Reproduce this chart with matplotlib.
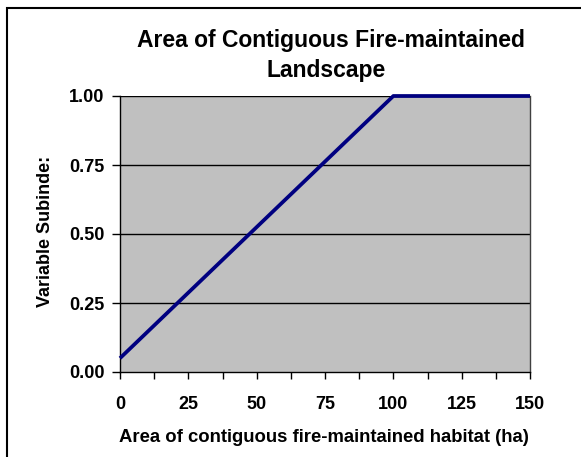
import matplotlib.pyplot as plt
from matplotlib.patches import Rectangle
from matplotlib.ticker import MultipleLocator

# data
area_ha = [0, 100, 150]
subindex = [0.05, 1.0, 1.0]
x_ticks = [0, 25, 50, 75, 100, 125, 150]
y_ticks = [0.0, 0.25, 0.5, 0.75, 1.0]

W, H = 581, 457
plt.rcParams['font.family'] = ['Liberation Sans', 'DejaVu Sans']
plt.rcParams['font.weight'] = 'bold'

fig = plt.figure(figsize=(W / 100, H / 100), dpi=100)
fig.patch.set_facecolor('white')

# plot area placed in pixel terms
left, right, top, bottom = 120, 530, 96, 372
ax = fig.add_axes([left / W, 1 - bottom / H, (right - left) / W, (bottom - top) / H])
ax.set_facecolor('#C0C0C0')

# gridlines
for yv in y_ticks[1:]:
    ax.axhline(yv, color='black', linewidth=1.0, zorder=1)

ax.plot(area_ha, subindex, color='#000080', linewidth=2.7, zorder=3, clip_on=False,
        solid_capstyle='butt')

ax.set_xlim(0, 150)
ax.set_ylim(0, 1.0)
ax.set_xticks(x_ticks)
ax.set_xticklabels([str(v) for v in x_ticks])
ax.xaxis.set_minor_locator(MultipleLocator(12.5))
ax.set_yticks(y_ticks)
ax.set_yticklabels(['%.2f' % v for v in y_ticks])

ax.tick_params(axis='x', which='both', direction='out', length=5, width=1, color='black',
               labelsize=13, pad=12)
ax.tick_params(axis='y', which='major', direction='out', length=6, width=1, color='black',
               labelsize=13, pad=5)

for side in ['left', 'bottom']:
    ax.spines[side].set_color('black')
    ax.spines[side].set_linewidth(1.0)
ax.spines['top'].set_visible(False)
ax.spines['right'].set_color('#404040')
ax.spines['right'].set_linewidth(1.0)

# titles and axis labels
fig.text(331 / W, 1 - 41 / H, 'Area of Contiguous Fire-maintained', ha='center', va='center',
         fontsize=16.5, fontweight='bold')
fig.text(326 / W, 1 - 71 / H, 'Landscape', ha='center', va='center',
         fontsize=16.5, fontweight='bold')
fig.text(324 / W, 1 - 437 / H, 'Area of contiguous fire-maintained habitat (ha)', ha='center',
         va='center', fontsize=13.3, fontweight='bold')
fig.text(46 / W, 1 - 231 / H, 'Variable Subinde:', ha='center', va='center', rotation=90,
         fontsize=13, fontweight='bold')

# outer chart border (only top and left fall inside the image)
fig.patches.append(Rectangle((7 / W, -0.05), 1.1, 1 - 8 / H + 0.05, transform=fig.transFigure,
                             fill=False, edgecolor='black', linewidth=1.5))

fig.savefig('out.png', dpi=100)
